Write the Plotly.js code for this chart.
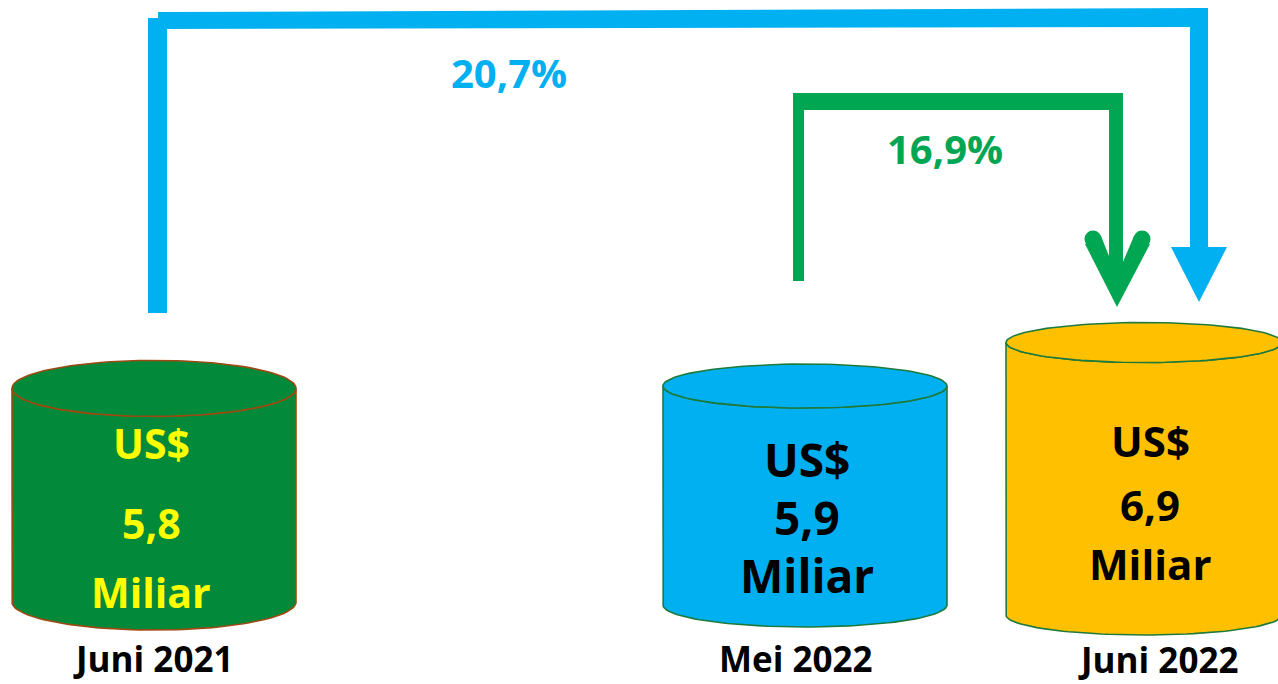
<!DOCTYPE html>
<html>
<head>
<meta charset="utf-8">
<script src="https://cdn.plot.ly/plotly-3.0.1.min.js"></script>
<style>html,body{margin:0;padding:0;background:#fff;}#chart{width:1278px;height:684px;}</style>
</head>
<body>
<div id="chart"></div>
<script>
// ---- data ----
const periods = ['Juni 2021', 'Mei 2022', 'Juni 2022'];
const values = [5.8, 5.9, 6.9];           // US$ miliar
const growthPct = [20.7, 16.9];           // Juni 2021 -> Juni 2022, Mei 2022 -> Juni 2022
const currency = 'US$';
const unit = 'Miliar';

// ---- geometry / style (not data) ----
const cx = [154, 805, 1144];
const rx = [142, 142, 138];
const ry = [28, 22, 20];
const baseY = [602, 605, 615];
const hMean = 235, hPerUnit = 53.5, vMean = 6.2;
const fills = ['#03893A', '#00B0F0', '#FFC000'];
const edges = ['#9C4A12', '#1E7A3C', '#1E7A3C'];
const textColors = ['#FFFF00', '#000000', '#000000'];
const textSizes = [41, 46, 42];
const textX = [151, 807, 1150];
const textLinesY = [[443, 523, 592], [459, 517, 575], [440, 504, 563]];
const labelY = [658, 658, 659];
const labelX = [153, 796, 1158];
const FONT = 'Open Sans, Liberation Sans, sans-serif';
const BLUE = '#00B0F0', GREEN = '#00A651';

const fmt = v => v.toFixed(1).replace('.', ',');
const traces = [];
const annotations = [];

function poly(xs, ys, color) {
  traces.push({type: 'scatter', mode: 'lines', x: xs, y: ys, fill: 'toself',
    fillcolor: color, line: {width: 0, color: color}, hoverinfo: 'skip'});
}

values.forEach((v, i) => {
  const top = baseY[i] - (hMean + hPerUnit * (v - vMean));
  const N = 60;
  const bx = [], by = [];
  bx.push(cx[i] - rx[i]); by.push(top);
  for (let k = 0; k <= N; k++) {
    const t = Math.PI - Math.PI * k / N;
    bx.push(cx[i] + rx[i] * Math.cos(t)); by.push(baseY[i] + ry[i] * Math.sin(t));
  }
  for (let k = 0; k <= N; k++) {
    const t = Math.PI * k / N;
    bx.push(cx[i] + rx[i] * Math.cos(t)); by.push(top + ry[i] * Math.sin(t));
  }
  bx.push(cx[i] - rx[i]); by.push(top);
  traces.push({type: 'scatter', mode: 'lines', x: bx, y: by, fill: 'toself',
    fillcolor: fills[i], line: {color: edges[i], width: 1.6}, hoverinfo: 'skip'});
  const ex = [], ey = [];
  for (let k = 0; k <= 2 * N; k++) {
    const t = 2 * Math.PI * k / (2 * N);
    ex.push(cx[i] + rx[i] * Math.cos(t)); ey.push(top + ry[i] * Math.sin(t));
  }
  traces.push({type: 'scatter', mode: 'lines', x: ex, y: ey, fill: 'toself',
    fillcolor: fills[i], line: {color: edges[i], width: 1.6}, hoverinfo: 'skip'});

  const lines = [currency, fmt(v), unit];
  lines.forEach((s, j) => {
    annotations.push({x: textX[i], y: textLinesY[i][j], xref: 'x', yref: 'y', text: '<b>' + s + '</b>',
      showarrow: false, xanchor: 'center', yanchor: 'middle',
      font: {family: FONT, size: textSizes[i], color: textColors[i]}});
  });
  annotations.push({x: labelX[i], y: labelY[i], xref: 'x', yref: 'y', text: '<b>' + periods[i] + '</b>',
    showarrow: false, xanchor: 'center', yanchor: 'middle', borderpad: 0,
    font: {family: FONT, size: 35, color: '#000000'}});
});

// blue arrow (Juni 2021 -> Juni 2022)
poly([148, 167, 167, 148], [18, 18, 313, 313], BLUE);
poly([158, 1208, 1208, 158], [12, 8, 27, 29], BLUE);
poly([1190, 1208, 1208, 1190], [8, 8, 250, 250], BLUE);
poly([1171, 1227, 1199], [247, 247, 302], BLUE);
// green arrow (Mei 2022 -> Juni 2022)
poly([793, 804, 804, 793], [93, 93, 281, 281], GREEN);
poly([793, 1123, 1123, 793], [93, 93, 110, 110], GREEN);
poly([1109, 1123, 1123, 1109], [93, 93, 290, 290], GREEN);
poly([1085, 1117, 1150, 1134, 1117, 1101], [244, 307, 244, 236, 276, 236], GREEN);
traces.push({type: 'scatter', mode: 'markers', x: [1093, 1142], y: [239, 239],
  marker: {size: 17, color: GREEN}, hoverinfo: 'skip'});

annotations.push({x: 509, y: 72, xref: 'x', yref: 'y', text: '<b>' + fmt(growthPct[0]) + '%</b>',
  showarrow: false, xanchor: 'center', yanchor: 'middle', font: {family: FONT, size: 40, color: BLUE}});
annotations.push({x: 945, y: 148, xref: 'x', yref: 'y', text: '<b>' + fmt(growthPct[1]) + '%</b>',
  showarrow: false, xanchor: 'center', yanchor: 'middle', font: {family: FONT, size: 40, color: GREEN}});

const layout = {
  width: 1278, height: 684,
  margin: {l: 0, r: 0, t: 0, b: 0},
  paper_bgcolor: '#ffffff', plot_bgcolor: '#ffffff',
  showlegend: false,
  xaxis: {range: [0, 1278], visible: false, fixedrange: true},
  yaxis: {range: [684, 0], visible: false, fixedrange: true},
  annotations: annotations
};
Plotly.newPlot('chart', traces, layout, {staticPlot: true, displayModeBar: false});
</script>
</body>
</html>
